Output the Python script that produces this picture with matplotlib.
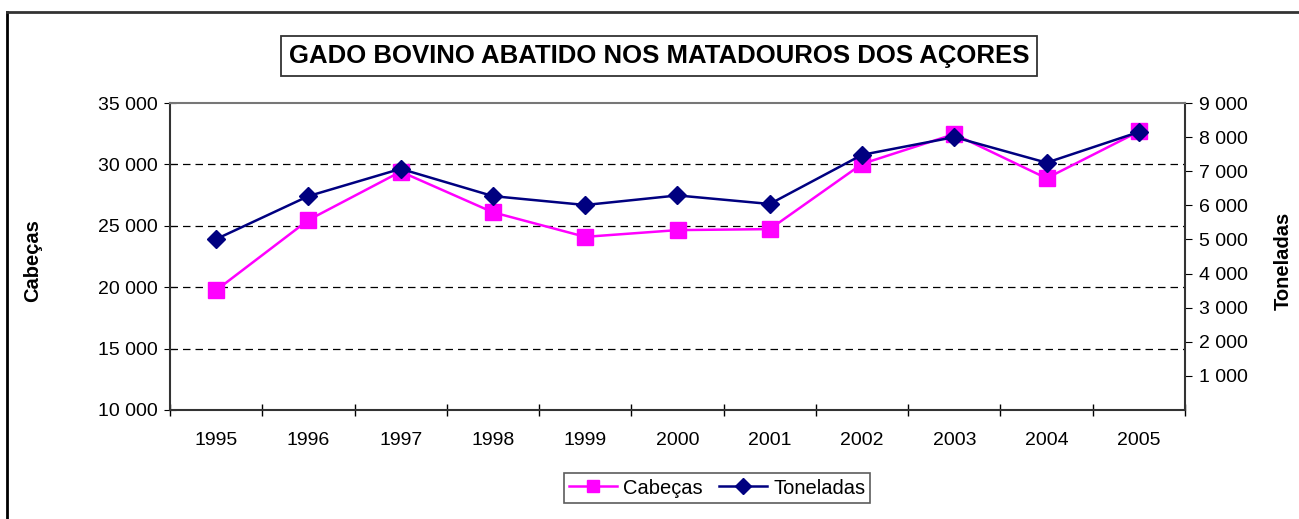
import matplotlib.pyplot as plt
from matplotlib.lines import Line2D
from matplotlib.ticker import FuncFormatter

plt.rcParams['font.family'] = ['Liberation Sans', 'DejaVu Sans']

years = ['1995', '1996', '1997', '1998', '1999', '2000', '2001', '2002', '2003', '2004', '2005']
cabecas = [19750, 25470, 29410, 26100, 24100, 24650, 24730, 30040, 32470, 28870, 32680]
toneladas = [5010, 6270, 7070, 6270, 6010, 6290, 6040, 7480, 8000, 7250, 8150]

pink = '#ff00ff'
navy = '#000080'


def thousands(v, pos):
    return f'{int(v):,}'.replace(',', ' ')


fig = plt.figure(figsize=(12.99, 5.19), dpi=100)
ax = fig.add_axes([170 / 1299, 1 - 410 / 519, (1185 - 170) / 1299, (410 - 103) / 519])
ax2 = ax.twinx()

x = range(len(years))
l1, = ax.plot(x, cabecas, color=pink, lw=1.8, marker='s', ms=11, label='Cabeças', zorder=3)
l2, = ax2.plot(x, toneladas, color=navy, lw=1.8, marker='D', ms=9, label='Toneladas', zorder=4)

ax.set_xlim(-0.5, len(years) - 0.5)
ax.set_ylim(10000, 35000)
ax.set_yticks(range(10000, 35001, 5000))
ax2.set_ylim(0, 9000)
ax2.set_yticks(range(1000, 9001, 1000))
ax.yaxis.set_major_formatter(FuncFormatter(thousands))
ax2.yaxis.set_major_formatter(FuncFormatter(thousands))

ax.set_xticks(x)
ax.set_xticklabels(years)
ax.set_xticks([i + 0.5 for i in range(-1, len(years))], minor=True)
ax.tick_params(axis='x', which='major', length=0, labelsize=14, pad=16)
ax.tick_params(axis='x', which='minor', direction='inout', length=9, width=1)
ax.tick_params(axis='y', direction='inout', length=9, labelsize=14, pad=4)
ax2.tick_params(axis='y', direction='out', length=5, labelsize=14, pad=5)

for y in range(15000, 35000, 5000):
    ax.axhline(y, color='black', lw=0.9, ls=(0, (6, 4)), zorder=1)

for sp in ['left', 'bottom']:
    ax.spines[sp].set_linewidth(1.5)
    ax.spines[sp].set_color('#333333')
ax2.spines['right'].set_linewidth(1.5)
ax2.spines['right'].set_color('#333333')
ax2.spines['top'].set_color('#777777')
ax2.spines['top'].set_linewidth(1.5)
ax.spines['top'].set_visible(False)
ax.spines['right'].set_visible(False)
ax2.spines['left'].set_visible(False)
ax2.spines['bottom'].set_visible(False)

fig.text(33 / 1299, 1 - 261 / 519, 'Cabeças', rotation=90, fontsize=14.5, fontweight='bold',
         ha='center', va='center')
fig.text(1283 / 1299, 1 - 261 / 519, 'Toneladas', rotation=90, fontsize=14.5, fontweight='bold',
         ha='center', va='center')

fig.text(659 / 1299, 1 - 56 / 519, 'GADO BOVINO ABATIDO NOS MATADOUROS DOS AÇORES',
         fontsize=18.5, fontweight='bold', ha='center', va='center',
         bbox=dict(boxstyle='square,pad=0.3', fc='white', ec='#333333', lw=1.3))

leg = fig.legend(handles=[l1, l2], loc='center', bbox_to_anchor=(717 / 1299, 1 - 488 / 519),
                 ncol=2, fontsize=14.5, frameon=True, fancybox=False, edgecolor='#333333',
                 handlelength=2.4, columnspacing=0.8, handletextpad=0.3, borderpad=0.25,
                 markerscale=0.85)
leg.get_frame().set_linewidth(1.2)

fig.add_artist(Line2D([7 / 1299, 7 / 1299], [0, 1 - 12 / 519], transform=fig.transFigure,
                      color='black', lw=2))
fig.add_artist(Line2D([7 / 1299, 1], [1 - 12 / 519, 1 - 12 / 519], transform=fig.transFigure,
                      color='#333333', lw=2))

fig.savefig('out.png', dpi=100)
